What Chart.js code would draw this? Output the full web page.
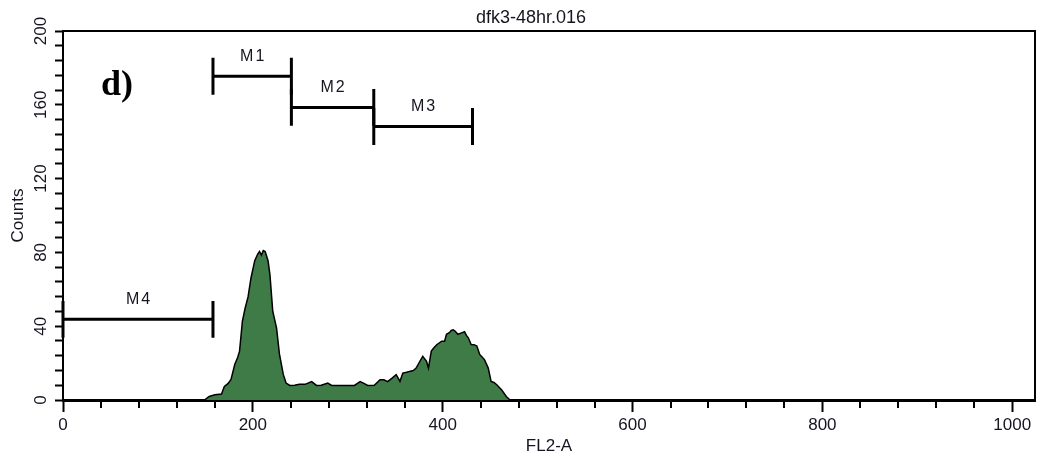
<!DOCTYPE html>
<html><head><meta charset="utf-8">
<script src="https://cdn.jsdelivr.net/npm/chart.js@4/dist/chart.umd.min.js"></script>
<style>html,body{margin:0;padding:0;background:#fff;}canvas{display:block;}</style>
</head><body>
<canvas id="c" width="1044" height="462"></canvas>
<script>
const chartTitle = 'dfk3-48hr.016';
const panelLabel = 'd)';
const xAxisTitle = 'FL2-A';
const yAxisTitle = 'Counts';
const xTickLabels = [0, 200, 400, 600, 800, 1000];
const yTickLabels = [0, 40, 80, 120, 160, 200];

const channels = [149,154,160,167,170,174,177,181,184,186,189,192,195,198,202,205,207,209,211,213,216,218,221,225,228,232,235,239,244,249,255,262,267,272,279,283,290,300,307,313,317,321,328,334,338,342,347,351,355,358,362,365,369,372,376,379,383,385,388,391,394,399,402,404,407,409,411,413,416,420,423,425,427,430,433,436,439,442,444,448,451,454,457,462,467,471];
const counts   = [0,1.9,2.8,3.2,7.4,9,11.2,19.4,23,26.5,42.8,50,56,66,75.5,79,80.5,78.5,81,80.5,75.5,68,48,39,25,14,9.2,7.9,8,8.5,8.5,10,7.9,8,9.2,7.9,7.9,7.9,7.9,10,9,7.9,8,11,11,10,12,13.7,10.1,14.6,15,15.5,16,17.3,21,23.7,21,17.3,26.5,28.5,30.1,31.9,31.9,35.6,36.5,37.7,38,37.4,35.6,36.4,37,35,33.7,30.1,30,29.2,24.7,23,21.9,17.3,10.1,9.5,8.3,5.6,1.9,0];

const markerNames  = ['M1', 'M2', 'M3', 'M4'];
const markerStarts = [158, 240.6, 327.4, 0];
const markerEnds   = [240.6, 327.4, 431.4, 158];
const markerLevels = [175.5, 158.6, 148.2, 43.7];

const CAP = 10; // half height of marker end caps, in count units
const FONT = '"Liberation Sans", Arial, sans-serif';
const TXT = '#151520';

Chart.defaults.font.family = FONT;
Chart.defaults.color = TXT;

const histData = channels.map((c, i) => ({x: c, y: counts[i]}));
const markerSets = markerNames.map((n, i) => {
  const s = markerStarts[i], e = markerEnds[i], L = markerLevels[i];
  return {
    type: 'line', label: n,
    data: [{x: s, y: L - CAP}, {x: s, y: L + CAP}, {x: s, y: null},
           {x: s, y: L}, {x: e, y: L}, {x: e, y: null},
           {x: e, y: L - CAP}, {x: e, y: L + CAP}],
    borderColor: '#000', borderWidth: 3, pointRadius: 0, fill: false,
    spanGaps: false, clip: false, order: 0, borderCapStyle: 'butt'
  };
});

const overlay = {
  id: 'overlay',
  afterDraw(chart) {
    const {ctx, chartArea: a, scales: {x, y}} = chart;
    ctx.save();
    ctx.strokeStyle = '#000';
    ctx.lineWidth = 2;
    ctx.beginPath();
    ctx.moveTo(a.left, a.top); ctx.lineTo(a.right, a.top); ctx.lineTo(a.right, a.bottom + 1);
    ctx.stroke();
    // minor x tick marks
    ctx.lineWidth = 2;
    x.ticks.forEach(t => {
      if (!xTickLabels.includes(t.value)) {
        const px = Math.round(x.getPixelForValue(t.value));
        ctx.beginPath(); ctx.moveTo(px, a.bottom + 1); ctx.lineTo(px, a.bottom + 8); ctx.stroke();
      }
    });
    // marker labels
    ctx.fillStyle = TXT;
    ctx.font = '16px ' + FONT;
    try { ctx.letterSpacing = '2px'; } catch (e) {}
    ctx.textAlign = 'center';
    ctx.textBaseline = 'middle';
    markerNames.forEach((n, i) => {
      const cx = x.getPixelForValue((markerStarts[i] + markerEnds[i]) / 2);
      const cy = y.getPixelForValue(markerLevels[i]) - 20;
      ctx.fillText(n, cx + 1, cy);
    });
    try { ctx.letterSpacing = '0px'; } catch (e) {}
    // title
    ctx.font = '18px ' + FONT;
    ctx.textBaseline = 'alphabetic';
    ctx.fillText(chartTitle, 531, 23);
    // panel label
    ctx.fillStyle = '#000';
    ctx.font = 'bold 36px "Liberation Serif", "Times New Roman", serif';
    ctx.textAlign = 'left';
    ctx.fillText(panelLabel, 101, 95);
    ctx.restore();
  }
};

new Chart(document.getElementById('c'), {
  type: 'line',
  data: {
    datasets: [
      ...markerSets,
      {
        label: 'FL2-A histogram', data: histData,
        fill: 'origin', backgroundColor: '#3e7b46', borderColor: '#000',
        borderWidth: 1.5, pointRadius: 0, tension: 0, order: 1
      }
    ]
  },
  options: {
    responsive: false,
    animation: false,
    events: [],
    layout: {padding: {top: 31, right: 9, left: 0, bottom: 0}},
    plugins: {legend: {display: false}, tooltip: {enabled: false}, title: {display: false}},
    scales: {
      x: {
        type: 'linear', min: 0, max: 1024,
        afterFit: s => { s.height = 62; },
        border: {display: true, color: '#000', width: 3},
        grid: {drawOnChartArea: false, tickLength: 12, tickWidth: 2,
               tickColor: c => (c.tick && xTickLabels.includes(c.tick.value)) ? '#000' : 'rgba(0,0,0,0)'},
        ticks: {stepSize: 40, autoSkip: false, includeBounds: false, maxRotation: 0, padding: 3,
                color: TXT, font: {size: 17},
                callback: v => xTickLabels.includes(v) ? String(v) : ''},
        title: {display: true, text: xAxisTitle, color: TXT, font: {size: 17}, padding: {top: 0, bottom: 5}}
      },
      y: {
        type: 'linear', min: 0, max: 200,
        afterFit: s => { s.width = 63; },
        border: {display: true, color: '#000', width: 2},
        grid: {drawOnChartArea: false, tickLength: 8, tickWidth: 2, tickColor: '#000'},
        ticks: {stepSize: 8, autoSkip: false, includeBounds: false, minRotation: 90, maxRotation: 90,
                crossAlign: 'center', padding: 0, color: TXT, font: {size: 17},
                callback: v => yTickLabels.includes(v) ? String(v) : ''},
        title: {display: true, text: yAxisTitle, color: TXT, font: {size: 17}, padding: {top: 8, bottom: 0}}
      }
    }
  },
  plugins: [overlay]
});
</script>
</body></html>
